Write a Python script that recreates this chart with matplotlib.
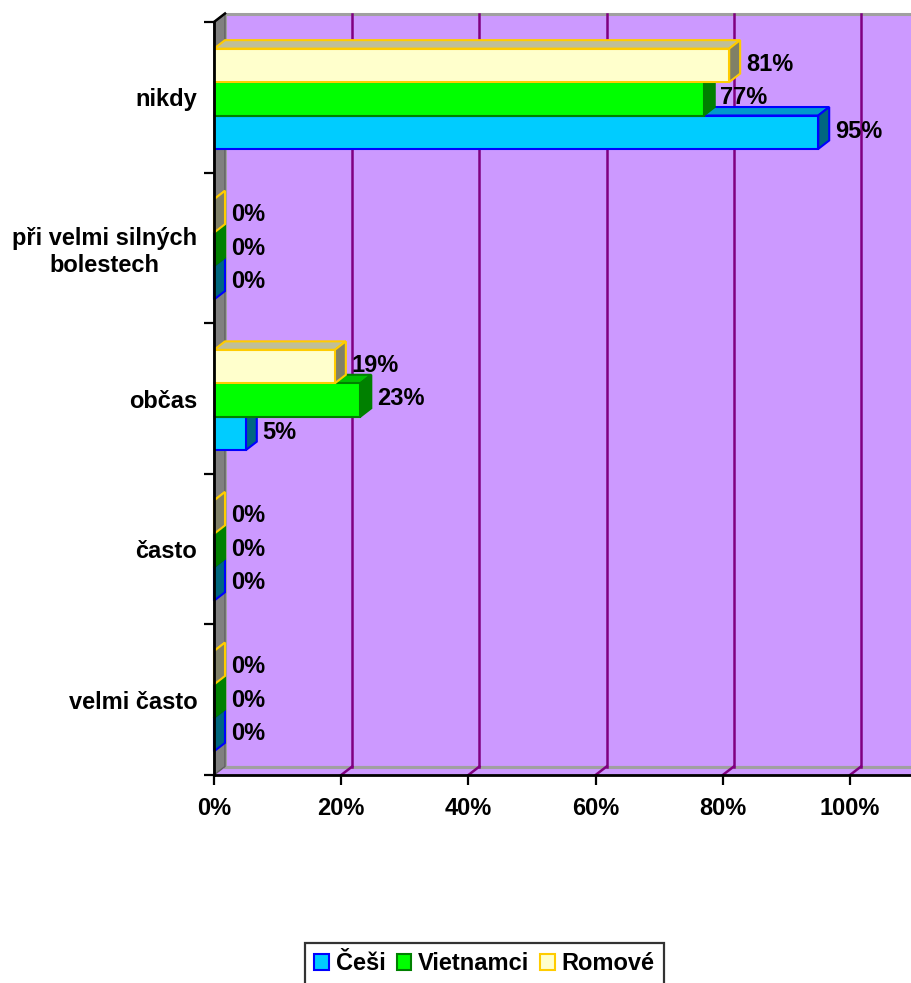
import matplotlib
matplotlib.use("Agg")
import matplotlib.pyplot as plt
from matplotlib.patches import Polygon, Rectangle, Patch

plt.rcParams['font.family'] = ['Liberation Sans', 'DejaVu Sans']
plt.rcParams['font.weight'] = 'bold'

# Answers, listed top to bottom as they appear on the chart
categories = ["nikdy", "při velmi silných\nbolestech", "občas", "často", "velmi často"]
series_names = ["Češi", "Vietnamci", "Romové"]
cesi = [95, 0, 5, 0, 0]
vietnamci = [77, 0, 23, 0, 0]
romove = [81, 0, 19, 0, 0]
xticks = [0, 20, 40, 60, 80, 100]
xticklabels = ["0%", "20%", "40%", "60%", "80%", "100%"]
grid_values = [20, 40, 60, 80, 100, 120]

values = [cesi, vietnamci, romove]
front = ["#00CCFF", "#00FF00", "#FFFFCC"]
edges = ["#0000FF", "#008000", "#FFCC00"]
tops = ["#0099CC", "#00BF00", "#BFBF99"]
sides = ["#006680", "#008000", "#808066"]
offsets = [-0.232, -0.010, 0.212]   # bar centre offsets within a category
bar_h = 0.222
fs = 17

W, H = 912, 983
fig = plt.figure(figsize=(W / 100, H / 100), dpi=100)
ax = fig.add_axes([214 / W, (H - 775) / H, (W - 214) / W, (775 - 22) / H])

n = len(categories)
xmax = (W - 214) / 6.36
ax.patch.set_visible(False)

# depth of the 3-D effect in data units
dx = 11 / 6.36
dy = 8.5 / 150.6
far = 130

purple = "#CC99FF"
grid = "#800080"
wall_grey = "#808080"
border_grey = "#A0A0A0"

# back wall
ax.add_patch(Rectangle((dx, -0.5 + dy), far, n, facecolor=purple,
                       edgecolor=border_grey, linewidth=2.2, zorder=0.5, clip_on=False))
# floor
ax.add_patch(Polygon([(0, -0.5), (dx, -0.5 + dy), (far, -0.5 + dy), (far, -0.5)],
                     closed=True, facecolor=purple, edgecolor="none", zorder=0.6, clip_on=False))
ax.plot([dx, far], [-0.5 + dy, -0.5 + dy], color=border_grey, lw=2.2, zorder=0.7, clip_on=False)
# left wall
ax.add_patch(Polygon([(0, -0.5), (dx, -0.5 + dy), (dx, n - 0.5 + dy), (0, n - 0.5)],
                     closed=True, facecolor=wall_grey, edgecolor="#606060", linewidth=1.0,
                     zorder=0.8, clip_on=False))
# gridlines on the back wall and the floor
for v in grid_values:
    ax.plot([v + dx, v + dx], [-0.5 + dy, n - 0.5 + dy], color=grid, lw=1.8, zorder=0.9,
            clip_on=False)
    ax.plot([v, v + dx], [-0.5, -0.5 + dy], color=grid, lw=1.8, zorder=0.9, clip_on=False)
# top-left corner edge
ax.plot([0, dx], [n - 0.5, n - 0.5 + dy], color="black", lw=1.8, zorder=0.95, clip_on=False)

ypos = [n - 1 - i for i in range(n)]

for k in range(3):
    z = 3 + k
    for i, v in enumerate(values[k]):
        y0 = ypos[i] + offsets[k] - bar_h / 2
        y1 = y0 + bar_h
        ax.add_patch(Polygon([(0, y1), (v, y1), (v + dx, y1 + dy), (dx, y1 + dy)],
                             closed=True, facecolor=tops[k], edgecolor=edges[k],
                             linewidth=1.5, zorder=z, clip_on=False))
        ax.add_patch(Polygon([(v, y0), (v + dx, y0 + dy), (v + dx, y1 + dy), (v, y1)],
                             closed=True, facecolor=sides[k], edgecolor=edges[k],
                             linewidth=1.5, zorder=z, clip_on=False))
        ax.text(v + dx + 0.9, ypos[i] + offsets[k] + 0.008, f"{v}%", ha="left",
                va="center", fontsize=fs, fontweight="bold", zorder=10)
    ax.barh([p + offsets[k] for p in ypos], values[k], height=bar_h, left=0,
            color=front[k], edgecolor=edges[k], linewidth=1.5, zorder=z + 0.5)

# axes styling
for s in ["top", "right"]:
    ax.spines[s].set_visible(False)
for s in ["left", "bottom"]:
    ax.spines[s].set_linewidth(2.0)
    ax.spines[s].set_zorder(9)

ax.set_xticks(xticks)
ax.set_xticklabels(xticklabels, fontsize=fs, fontweight="bold")
ax.tick_params(axis="x", direction="out", length=7.5, width=1.6, pad=8.5)

ax.set_yticks([i - 0.5 for i in range(n + 1)])
ax.set_yticklabels([])
ax.tick_params(axis="y", which="major", direction="out", length=7.5, width=1.6)
ax.set_yticks(ypos, minor=True)
ax.set_yticklabels(categories, minor=True, fontsize=fs, fontweight="bold",
                   multialignment="center", linespacing=1.2)
ax.tick_params(axis="y", which="minor", length=0, pad=12)

ax.set_xlim(0, xmax)
ax.set_ylim(-0.5, n - 0.5)

handles = [Patch(facecolor=front[k], edgecolor=edges[k], linewidth=1.5, label=series_names[k])
           for k in range(3)]
leg = fig.legend(handles=handles, loc="upper left", bbox_to_anchor=(305 / W, 1 - 943 / H),
                 ncol=3, frameon=True, fancybox=False, fontsize=fs,
                 handlelength=0.62, handleheight=0.62, handletextpad=0.3,
                 columnspacing=0.45, borderpad=0.4, borderaxespad=0)
leg.get_frame().set_edgecolor("black")
leg.get_frame().set_linewidth(1.6)
for t in leg.get_texts():
    t.set_fontweight("bold")

fig.savefig("out.png", dpi=100)
